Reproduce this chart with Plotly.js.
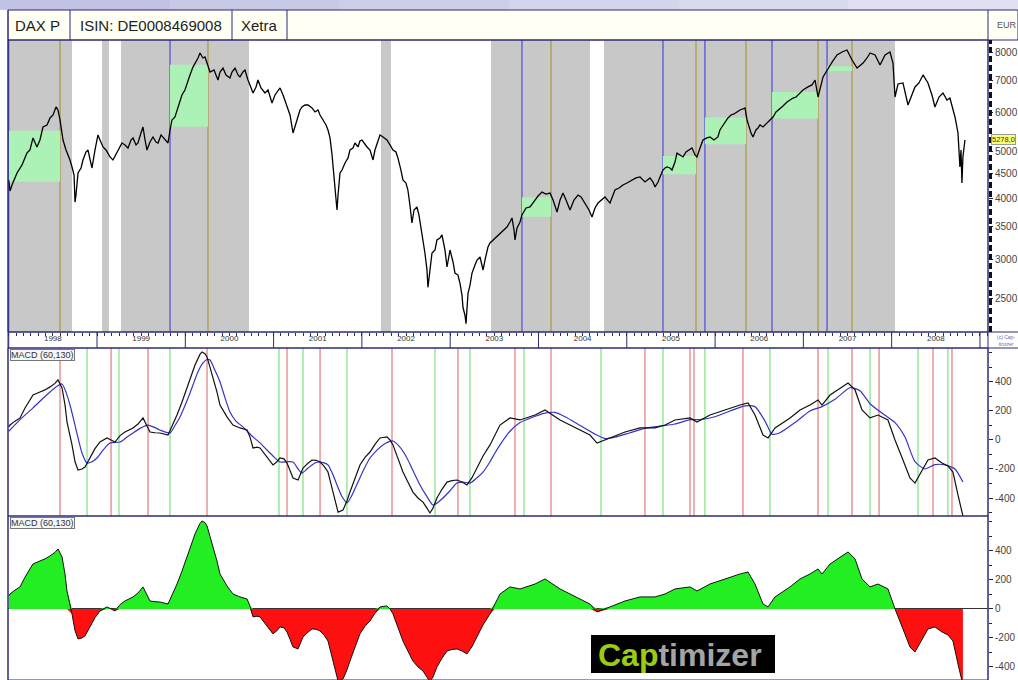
<!DOCTYPE html>
<html><head><meta charset="utf-8">
<script src="https://cdn.plot.ly/plotly-3.0.1.min.js"></script>
<style>html,body{margin:0;padding:0;background:#fff;}#chart{width:1018px;height:680px;}</style>
</head><body><div id="chart"></div>
<script>
// ---------- DATA (decimal years, EUR) ----------
const years = ['1998','1999','2000','2001','2002','2003','2004','2005','2006','2007','2008'];
const yearBounds = [1998,1999,2000,2001,2002,2003,2004,2005,2006,2007,2008,2009];

const priceT = [
1998.000,1998.015,1998.037,1998.094,1998.151,1998.207,1998.241,1998.275,1998.320,1998.354,
1998.388,1998.434,1998.468,1998.502,1998.536,1998.558,1998.581,1998.615,1998.649,1998.672,
1998.694,1998.717,1998.740,1998.751,1998.762,1998.785,1998.819,1998.841,1998.875,1998.898,
1998.921,1998.943,1998.977,1999.011,1999.034,1999.068,1999.102,1999.147,1999.181,1999.227,
1999.283,1999.317,1999.351,1999.385,1999.408,1999.442,1999.464,1999.498,1999.521,1999.544,
1999.566,1999.600,1999.634,1999.668,1999.691,1999.725,1999.747,1999.781,1999.804,1999.827,
1999.849,1999.883,1999.906,1999.940,1999.962,1999.996,2000.019,2000.053,2000.087,2000.121,
2000.144,2000.166,2000.200,2000.223,2000.257,2000.280,2000.325,2000.370,2000.393,2000.427,
2000.461,2000.506,2000.529,2000.563,2000.597,2000.619,2000.653,2000.676,2000.710,2000.733,
2000.767,2000.801,2000.823,2000.857,2000.903,2000.937,2000.982,2001.016,2001.050,2001.073,
2001.107,2001.152,2001.186,2001.220,2001.243,2001.265,2001.299,2001.322,2001.356,2001.390,
2001.435,2001.469,2001.503,2001.526,2001.560,2001.594,2001.616,2001.639,2001.662,2001.684,
2001.707,2001.718,2001.730,2001.752,2001.775,2001.809,2001.843,2001.865,2001.899,2001.922,
2001.956,2001.978,2002.001,2002.035,2002.058,2002.092,2002.126,2002.148,2002.182,2002.205,
2002.239,2002.284,2002.318,2002.352,2002.386,2002.408,2002.442,2002.465,2002.499,2002.521,
2002.544,2002.567,2002.590,2002.624,2002.646,2002.680,2002.703,2002.714,2002.737,2002.748,
2002.771,2002.794,2002.828,2002.850,2002.884,2002.907,2002.941,2002.964,2002.998,2003.032,
2003.054,2003.088,2003.111,2003.134,2003.145,2003.168,2003.179,2003.190,2003.202,2003.224,
2003.247,2003.281,2003.304,2003.338,2003.372,2003.394,2003.428,2003.451,2003.485,2003.519,
2003.564,2003.598,2003.643,2003.677,2003.700,2003.723,2003.734,2003.757,2003.791,2003.813,
2003.859,2003.904,2003.938,2003.961,2003.995,2004.040,2004.085,2004.131,2004.165,2004.210,
2004.244,2004.278,2004.312,2004.357,2004.402,2004.448,2004.482,2004.527,2004.572,2004.606,
2004.640,2004.674,2004.719,2004.753,2004.810,2004.844,2004.866,2004.912,2004.957,2005.002,
2005.059,2005.104,2005.150,2005.206,2005.263,2005.297,2005.320,2005.354,2005.376,2005.410,
2005.433,2005.456,2005.489,2005.512,2005.546,2005.569,2005.603,2005.637,2005.671,2005.705,
2005.739,2005.773,2005.795,2005.829,2005.863,2005.908,2005.942,2005.987,2006.032,2006.055,
2006.078,2006.112,2006.146,2006.180,2006.214,2006.248,2006.282,2006.316,2006.339,2006.362,
2006.384,2006.407,2006.429,2006.463,2006.486,2006.509,2006.543,2006.588,2006.622,2006.656,
2006.690,2006.735,2006.769,2006.815,2006.849,2006.883,2006.917,2006.962,2006.996,2007.052,
2007.098,2007.132,2007.166,2007.223,2007.279,2007.325,2007.381,2007.438,2007.494,2007.551,
2007.608,2007.676,2007.721,2007.755,2007.812,2007.868,2007.925,2007.981,2008.015,2008.038,
2008.072,2008.128,2008.185,2008.230,2008.264,2008.309,2008.355,2008.411,2008.456,2008.490,
2008.536,2008.581,2008.626,2008.660,2008.694,2008.717,2008.751,2008.773,2008.785,2008.796,
2008.807,2008.830];
const priceVal = [
4368,4146,4266,4515,4690,4963,5033,5329,5106,5277,
5612,5665,5857,5940,6169,6082,5801,5277,5033,4917,
4801,4645,4473,3935,4068,4515,4623,4801,4986,5033,
4801,4623,5033,5405,5277,5106,5033,4871,4801,4986,
5203,5155,5082,5277,5329,5155,5203,5456,5612,5277,
5033,5228,5354,5228,5203,5405,5354,5277,5203,5533,
5801,5884,6082,6376,6530,6684,6910,7177,7450,7629,
7777,7962,7777,7814,7521,7278,7347,7008,7278,7415,
7177,7077,7278,7415,7177,7110,7278,7347,7008,6846,
6591,6782,7008,6750,6591,6684,6286,6530,6684,6750,
6530,6169,5940,5456,5665,5801,6082,6169,6227,6227,
6140,6025,6082,5940,5801,5665,5533,5329,4917,4368,
3973,3790,4068,4515,4579,4734,4848,5033,5082,5203,
5106,5252,5277,5155,5106,5033,4801,5033,5277,5405,
5354,5277,5155,5033,4986,4848,4579,4368,4307,4166,
3881,3564,3790,3845,3702,3402,3212,3093,2854,2630,
2854,3093,3137,3289,3320,3370,3137,2895,3137,2964,
2813,2787,2680,2532,2391,2302,2215,2414,2556,2655,
2813,2921,2992,3035,2854,2992,3182,3243,3289,3336,
3402,3448,3498,3581,3650,3448,3289,3481,3581,3702,
3827,3845,3935,3973,4049,4126,4087,4107,3973,3755,
3973,4107,3973,3790,3973,4068,4030,3917,3790,3667,
3827,3917,3973,4030,3917,4068,4166,4206,4266,4307,
4368,4410,4431,4327,4410,4327,4226,4327,4431,4579,
4623,4645,4623,4579,4756,4963,4917,4871,4986,5033,
5082,4917,4871,5082,5277,5329,5354,5277,5354,5533,
5612,5746,5857,5940,5968,6025,6082,6111,6140,5801,
5612,5456,5354,5533,5586,5665,5612,5719,5801,5884,
6025,6140,6198,6316,6376,6436,6467,6591,6684,6782,
6846,7008,6467,7110,7415,7629,7888,8000,8076,7703,
7415,7592,7777,7962,7888,7521,7888,8000,7592,6467,
6878,6910,6227,6530,6782,6910,7177,6910,6530,6169,
6467,6591,6376,6436,6140,5884,5456,4645,5033,4307,
4871,5278];

const macdT = [
1998.000,1998.015,1998.071,1998.128,1998.185,1998.275,1998.354,1998.411,1998.468,1998.524,
1998.558,1998.604,1998.638,1998.660,1998.717,1998.751,1998.785,1998.830,1998.864,1998.921,
1998.977,1999.034,1999.113,1999.159,1999.204,1999.261,1999.317,1999.408,1999.464,1999.521,
1999.566,1999.600,1999.657,1999.713,1999.804,1999.849,1999.906,1999.962,2000.019,2000.065,
2000.110,2000.166,2000.189,2000.223,2000.246,2000.280,2000.314,2000.359,2000.393,2000.438,
2000.472,2000.540,2000.619,2000.699,2000.733,2000.767,2000.812,2000.846,2000.891,2000.925,
2000.993,2001.038,2001.073,2001.118,2001.152,2001.186,2001.220,2001.277,2001.333,2001.390,
2001.435,2001.481,2001.526,2001.571,2001.616,2001.673,2001.707,2001.730,2001.786,2001.831,
2001.865,2001.922,2001.978,2002.035,2002.092,2002.148,2002.205,2002.284,2002.318,2002.352,
2002.408,2002.465,2002.521,2002.578,2002.635,2002.692,2002.737,2002.771,2002.805,2002.850,
2002.907,2002.964,2003.020,2003.077,2003.134,2003.190,2003.247,2003.304,2003.372,2003.451,
2003.507,2003.564,2003.677,2003.791,2003.961,2004.074,2004.244,2004.414,2004.583,2004.663,
2004.810,2004.980,2005.150,2005.320,2005.433,2005.546,2005.716,2005.795,2005.942,2006.112,
2006.282,2006.373,2006.452,2006.543,2006.600,2006.679,2006.849,2006.962,2007.075,2007.166,
2007.211,2007.302,2007.415,2007.506,2007.585,2007.664,2007.755,2007.845,2007.958,2008.038,
2008.128,2008.207,2008.264,2008.343,2008.411,2008.490,2008.570,2008.637,2008.694,2008.751,
2008.807];
const macdVal = [
90,103,130,152,220,310,331,345,366,390,
414,359,240,124,-34,-150,-207,-200,-186,-124,
-60,-14,14,0,-14,30,55,83,110,152,
100,55,50,48,34,90,172,260,359,440,
517,590,607,595,572,500,428,330,241,190,
159,103,83,69,20,-55,-50,-55,-90,-124,
-172,-150,-124,-130,-159,-210,-262,-276,-193,-160,
-138,-140,-152,-180,-221,-359,-450,-497,-483,-420,
-359,-260,-172,-120,-83,-30,14,21,0,-34,
-120,-221,-290,-359,-400,-428,-470,-503,-470,-400,
-340,-290,-280,-276,-290,-310,-260,-193,-110,-34,
30,103,152,138,172,207,138,83,34,-21,
14,55,83,83,103,138,152,124,172,207,
241,255,172,34,14,83,152,207,241,276,
241,310,359,393,345,207,152,172,138,0,
-138,-262,-297,-207,-138,-124,-159,-179,-221,-379,
-524];

const signalT = [
1998.000,1998.015,1998.128,1998.275,1998.411,1998.468,1998.547,1998.604,1998.649,1998.694,
1998.740,1998.785,1998.830,1998.887,1998.943,1999.000,1999.068,1999.147,1999.261,1999.340,
1999.408,1999.487,1999.578,1999.657,1999.713,1999.827,1999.883,1999.940,2000.019,2000.087,
2000.144,2000.200,2000.246,2000.280,2000.336,2000.393,2000.450,2000.506,2000.574,2000.653,
2000.710,2000.767,2000.846,2000.925,2000.993,2001.073,2001.152,2001.220,2001.277,2001.322,
2001.378,2001.435,2001.481,2001.526,2001.571,2001.616,2001.673,2001.718,2001.775,2001.831,
2001.888,2001.956,2002.024,2002.092,2002.171,2002.239,2002.295,2002.352,2002.431,2002.510,
2002.578,2002.658,2002.737,2002.805,2002.862,2002.918,2002.998,2003.077,2003.145,2003.224,
2003.304,2003.372,2003.451,2003.507,2003.564,2003.677,2003.791,2003.904,2004.074,2004.187,
2004.301,2004.471,2004.640,2004.753,2004.866,2005.036,2005.206,2005.376,2005.546,2005.716,
2005.829,2005.999,2006.169,2006.339,2006.452,2006.566,2006.645,2006.735,2006.905,2007.075,
2007.211,2007.358,2007.528,2007.641,2007.755,2007.925,2008.038,2008.151,2008.264,2008.377,
2008.490,2008.604,2008.717,2008.807];
const signalVal = [
60,69,140,221,300,331,370,386,330,241,
130,14,-90,-159,-150,-124,-70,-21,-14,20,
48,80,103,85,69,48,100,159,270,379,
470,531,555,552,480,400,290,193,130,90,
55,21,-20,-69,-110,-152,-150,-152,-200,-228,
-200,-172,-155,-152,-158,-172,-240,-310,-390,-434,
-380,-290,-200,-124,-70,-34,-15,-7,-50,-124,
-210,-310,-390,-448,-430,-400,-350,-297,-290,-297,
-260,-221,-150,-90,-34,60,120,150,185,190,
160,100,40,10,20,50,80,95,110,140,
140,160,200,235,230,130,40,50,120,200,
230,280,360,340,250,170,120,20,-150,-200,
-170,-172,-200,-290];

// invested periods (grey), trade entries/exits, trade price boxes
const holdStart = [1997.99, 1999.057, 1999.272, 2002.216, 2003.462, 2004.742];
const holdEnd   = [1998.717, 1999.136, 2000.721, 2002.329, 2004.583, 2008.038];
const buyT  = [1998.000, 1999.827, 2003.813, 2005.410, 2005.885, 2006.645, 2007.268];
const sellT = [1998.581, 2000.257, 2004.142, 2005.784, 2006.350, 2007.166, 2007.551];
const tradeLow  = [4330, 5620, 3670, 4490, 5170, 5840, 7310];
const tradeHigh = [5515, 7530, 4025, 4890, 5870, 6620, 7480];
// MACD crossover signals
const macdBuyT  = [1998.887,1999.249,1999.827,2001.061,2001.333,2001.831,2002.828,2003.224,2003.836,
                   2004.708,2005.410,2005.885,2006.622,2007.279,2007.755,2008.298,2008.637];
const macdSellT = [1998.581,1999.159,1999.578,2000.246,2001.152,2001.526,2002.341,2003.088,2003.734,
                   2004.142,2005.206,2005.716,2005.761,2006.316,2007.166,2007.551,2007.857,2008.468,2008.683];

const priceTicks = [2500,3000,3500,4000,4500,5000,6000,7000,8000];
const macdTicks = [-400,-200,0,200,400];

// ---------- LAYOUT HELPERS ----------
const W = 1018, H = 680;
const px = x => x / W;
const py = y => 1 - y / H;
const L = 8, R = 988, PT = 40, PB = 332, MT = 348, MM = 516;
const NAVY = '#2a2a78';
const FONT = 'Liberation Sans, Arial, sans-serif';

const traces = [];
buyT.forEach((b, i) => {
  traces.push({type:'scatter', mode:'lines', x:[b, sellT[i], sellT[i], b, b],
    y:[tradeLow[i], tradeLow[i], tradeHigh[i], tradeHigh[i], tradeLow[i]],
    fill:'toself', fillcolor:'rgb(172,242,182)', line:{width:0}, hoverinfo:'skip',
    xaxis:'x', yaxis:'y', showlegend:false});
});
traces.push({type:'scatter', mode:'lines', x:priceT, y:priceVal, line:{color:'#000', width:1.3},
  xaxis:'x', yaxis:'y', showlegend:false});
traces.push({type:'scatter', mode:'lines', x:signalT, y:signalVal, line:{color:'#3434c8', width:1.2, shape:'spline', smoothing:0.6},
  xaxis:'x', yaxis:'y2', showlegend:false});
traces.push({type:'scatter', mode:'lines', x:macdT, y:macdVal, line:{color:'#111', width:1.2},
  xaxis:'x', yaxis:'y2', showlegend:false});
traces.push({type:'scatter', mode:'lines', x:macdT, y:macdVal.map(v => Math.max(v, 0)), fill:'tozeroy',
  fillcolor:'#22ee22', line:{width:0}, xaxis:'x', yaxis:'y3', showlegend:false});
traces.push({type:'scatter', mode:'lines', x:macdT, y:macdVal.map(v => Math.min(v, 0)), fill:'tozeroy',
  fillcolor:'#ff1010', line:{width:0}, xaxis:'x', yaxis:'y3', showlegend:false});
traces.push({type:'scatter', mode:'lines', x:macdT, y:macdVal, line:{color:'#111', width:1},
  xaxis:'x', yaxis:'y3', showlegend:false});

const shapes = [];
// top lavender band
const bandCols = ['#c2c2e4','#c8c8e7','#cecee9','#d4d4ec','#dadaef','#e0e0f2'];
bandCols.forEach((c, i) => shapes.push({type:'rect', xref:'paper', yref:'paper',
  x0:i/6, x1:(i+1)/6 + 0.002, y0:py(10), y1:1, fillcolor:c, line:{width:0}}));
// header row
shapes.push({type:'rect', xref:'paper', yref:'paper', x0:px(L), x1:1, y0:py(PT), y1:py(10),
  fillcolor:'#fffff4', line:{color:NAVY, width:1}});
[70, 232, 287].forEach(x => shapes.push({type:'line', xref:'paper', yref:'paper', x0:px(x), x1:px(x),
  y0:py(PT), y1:py(10), line:{color:NAVY, width:1}}));
// grey holding periods
holdStart.forEach((s, i) => shapes.push({type:'rect', xref:'x', yref:'y domain', x0:s, x1:holdEnd[i],
  y0:0, y1:1, fillcolor:'#c8c8c8', line:{width:0}, layer:'below'}));
buyT.forEach(t => shapes.push({type:'line', xref:'x', yref:'y domain', x0:t, x1:t, y0:0, y1:1,
  line:{color:'#4c4cd8', width:1.2}, layer:'below'}));
sellT.forEach(t => shapes.push({type:'line', xref:'x', yref:'y domain', x0:t, x1:t, y0:0, y1:1,
  line:{color:'#a8983c', width:1.2}, layer:'below'}));
macdBuyT.forEach(t => shapes.push({type:'line', xref:'x', yref:'y2 domain', x0:t, x1:t, y0:0, y1:1,
  line:{color:'#7ee27e', width:1.2}, layer:'below'}));
macdSellT.forEach(t => shapes.push({type:'line', xref:'x', yref:'y2 domain', x0:t, x1:t, y0:0, y1:1,
  line:{color:'#e27a7a', width:1.2}, layer:'below'}));
// panel frames
[[PT, PB], [MT, MM], [MM, H]].forEach(([a, b]) => shapes.push({type:'rect', xref:'paper', yref:'paper',
  x0:px(L), x1:px(R), y0:py(b), y1:py(a), line:{color:NAVY, width:1}, fillcolor:'rgba(0,0,0,0)'}));
shapes.push({type:'line', xref:'paper', yref:'paper', x0:px(L), x1:1, y0:py(PB), y1:py(PB), line:{color:NAVY, width:1}});
shapes.push({type:'line', xref:'paper', yref:'paper', x0:px(L), x1:1, y0:py(MT), y1:py(MT), line:{color:NAVY, width:1}});
shapes.push({type:'line', xref:'paper', yref:'paper', x0:px(L), x1:px(L), y0:0, y1:py(10), line:{color:NAVY, width:1}});
shapes.push({type:'line', xref:'paper', yref:'paper', x0:px(R), x1:px(R), y0:0, y1:py(10), line:{color:NAVY, width:1}});
// year boundary ticks
yearBounds.forEach(t => shapes.push({type:'line', xref:'x', yref:'paper', x0:t, x1:t, y0:py(MT), y1:py(PB),
  line:{color:NAVY, width:1}}));
// ruler bar on price scale
shapes.push({type:'line', xref:'paper', yref:'paper', x0:px(990.5), x1:px(990.5), y0:py(PB), y1:py(PT),
  line:{color:'#111', width:3, dash:'6px,3px'}});
// logo box
shapes.push({type:'rect', xref:'paper', yref:'paper', x0:px(591), x1:px(775), y0:py(673), y1:py(635),
  fillcolor:'#000', line:{width:0}});

const ann = [];
const hdr = (x, text, size, col) => ann.push({xref:'paper', yref:'paper', x:px(x), y:py(25.5), xanchor:'left',
  yanchor:'middle', text, showarrow:false, font:{family:FONT, size, color:col}});
hdr(13, 'DAX P', 15, '#222');
hdr(78, 'ISIN: DE0008469008', 15, '#222');
hdr(239, 'Xetra', 15, '#222');
hdr(995, 'EUR', 9, '#555');
[MT + 1, MM + 1].forEach(y => ann.push({xref:'paper', yref:'paper', x:px(10), y:py(y), xanchor:'left', yanchor:'top',
  text:'MACD (60,130)', showarrow:false, font:{family:FONT, size:9, color:'#333'}, bgcolor:'#f6f6f6',
  bordercolor:'#777', borderwidth:1, borderpad:0}));
const lastPrice = priceVal[priceVal.length - 1];
ann.push({xref:'paper', yref:'y', x:px(991), y:Math.log10(lastPrice), xanchor:'left', yanchor:'middle',
  text:lastPrice.toFixed(1).replace('.', ','), showarrow:false, font:{family:FONT, size:7.5, color:'#333'},
  bgcolor:'#ffff70', bordercolor:'#999', borderwidth:1, borderpad:0});
ann.push({xref:'paper', yref:'paper', x:px(995), y:py(340), xanchor:'left', yanchor:'middle',
  text:'(c) Cap-<br>timizer', showarrow:false, font:{family:FONT, size:5, color:'#6a6aa8'}});
ann.push({xref:'paper', yref:'paper', x:px(680), y:py(655), xanchor:'center', yanchor:'middle',
  text:'<b><span style="color:#9acc10">Cap</span><span style="color:#a4a4a4">timizer</span></b>',
  showarrow:false, font:{family:FONT, size:32}});

const rightAxis = (dom, range, vals, extra) => Object.assign({domain:dom, range, side:'right', anchor:'x',
  tickmode:'array', tickvals:vals, ticktext:vals.map(v => String(v)), ticks:'outside', ticklen:4, tickcolor:'#222',
  tickfont:{family:FONT, size:10, color:'#444'}, showgrid:false, zeroline:false, showline:false, fixedrange:true}, extra || {});

const layout = {
  width:W, height:H, margin:{l:0, r:0, t:0, b:0}, paper_bgcolor:'#fff', plot_bgcolor:'#fff', showlegend:false,
  xaxis:{domain:[px(L), px(R)], range:[1997.992, 2009.091], anchor:'y', tickmode:'array',
    tickvals:years.map(y => +y + 0.5), ticktext:years, ticks:'', tickfont:{family:FONT, size:8, color:'#333'},
    showgrid:false, zeroline:false, showline:false, fixedrange:true,
    minor:{tickmode:'linear', tick0:1998, dtick:1/12, ticks:'outside', ticklen:3, tickcolor:NAVY, showgrid:false}},
  yaxis:rightAxis([py(PB), py(PT)], [Math.log10(2129), Math.log10(8467)], priceTicks, {type:'log'}),
  yaxis2:rightAxis([py(MM), py(MT)], [-524, 634], macdTicks,
    {minor:{dtick:100, ticks:'outside', ticklen:3, tickcolor:'#222', showgrid:false}}),
  yaxis3:rightAxis([0, py(MM)], [-490, 641], macdTicks,
    {zeroline:true, zerolinecolor:'#333', zerolinewidth:1,
     minor:{dtick:100, ticks:'outside', ticklen:3, tickcolor:'#222', showgrid:false}}),
  shapes, annotations:ann
};
Plotly.newPlot('chart', traces, layout, {displayModeBar:false, staticPlot:true});
</script></body></html>
